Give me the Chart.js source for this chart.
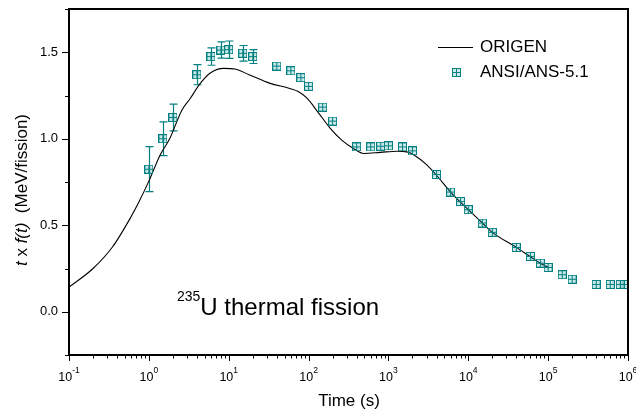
<!DOCTYPE html>
<html>
<head>
<meta charset="utf-8">
<script src="https://cdn.jsdelivr.net/npm/chart.js@4"></script>
<style>
    html, body { margin: 0; padding: 0; background: #fff; }
    #decay_chart { display: block; }
</style>
</head>
<body>
<canvas id="decay_chart" width="636" height="412"></canvas>
<script>
// ORIGEN calculation (line)
const origenT = [0.1, 0.2, 0.35, 0.6, 0.75, 1, 1.4, 1.8, 2.6, 3.3, 4.4, 6, 8.6, 12, 18, 33, 58, 75, 95, 133, 187, 260, 365, 490, 790, 1280, 1700, 2280, 3000, 4000, 6000, 1e4, 1.5e4, 2e4, 4e4, 6e4, 8e4, 1e5];
const origenY = [0.142, 0.25, 0.374, 0.55, 0.634, 0.755, 0.91, 0.995, 1.166, 1.233, 1.32, 1.383, 1.407, 1.403, 1.37, 1.32, 1.291, 1.272, 1.236, 1.15, 1.06, 0.992, 0.944, 0.915, 0.921, 0.928, 0.924, 0.895, 0.85, 0.789, 0.692, 0.59, 0.513, 0.459, 0.372, 0.318, 0.28, 0.256];

// ANSI/ANS-5.1 standard (points with error bars)
const ansiT = [1, 1.5, 2, 4, 6, 8, 10, 15, 20, 40, 60, 80, 100, 150, 200, 400, 600, 800, 1000, 1500, 2000, 4000, 6000, 8000, 1e4, 1.5e4, 2e4, 4e4, 6e4, 8e4, 1e5, 1.5e5, 2e5, 4e5, 6e5, 8e5, 9e5];
const ansiY = [0.824, 1.0, 1.123, 1.37, 1.475, 1.513, 1.515, 1.494, 1.475, 1.42, 1.393, 1.353, 1.303, 1.183, 1.102, 0.953, 0.953, 0.957, 0.959, 0.953, 0.93, 0.793, 0.692, 0.637, 0.59, 0.513, 0.459, 0.372, 0.32, 0.281, 0.256, 0.214, 0.188, 0.158, 0.158, 0.158, 0.158];
const ansiErr = [0.13, 0.097, 0.077, 0.058, 0.05, 0.047, 0.05, 0.045, 0.04, 0, 0, 0, 0, 0, 0, 0, 0, 0, 0, 0, 0, 0, 0, 0, 0, 0, 0, 0, 0, 0, 0, 0, 0, 0, 0, 0, 0];

// axis ticks
const xTickExps = [-1, 0, 1, 2, 3, 4, 5, 6];
const yTickLabels = ['0.0', '0.5', '1.0', '1.5'];
const yMinorStep = 0.25;

const seriesNames = ['ORIGEN', 'ANSI/ANS-5.1'];
const noteIsotope = '235';
const noteText = 'U thermal fission';
const xTitle = 'Time (s)';

const FONT = "'Liberation Sans', Arial, sans-serif";
const TEAL = '#008080';

// square-with-cross marker
function makeMarker() {
    let m = document.createElement('canvas');
    m.width = 9;
    m.height = 9;
    let g = m.getContext('2d');
    g.fillStyle = 'rgba(0,140,140,0.2)';
    g.fillRect(0, 0, 9, 9);
    g.strokeStyle = TEAL;
    g.lineWidth = 1;
    g.strokeRect(0.5, 0.5, 8, 8);
    g.beginPath();
    g.moveTo(4.5, 0.5); g.lineTo(4.5, 8.5);
    g.moveTo(0.5, 4.5); g.lineTo(8.5, 4.5);
    g.stroke();
    return m;
}
const marker = makeMarker();

const axesPlugin = {
    id: 'axesPlugin',
    beforeDatasetsDraw(chart) {
        // error bars
        let ctx = chart.ctx;
        let xs = chart.scales.x, ys = chart.scales.y;
        ctx.save();
        ctx.strokeStyle = TEAL;
        ctx.lineWidth = 1.2;
        ansiT.forEach((t, i) => {
            if (!ansiErr[i]) return;
            let px = Math.round(xs.getPixelForValue(t)) + 0.5;
            let top = ys.getPixelForValue(ansiY[i] + ansiErr[i]);
            let bot = ys.getPixelForValue(ansiY[i] - ansiErr[i]);
            ctx.beginPath();
            ctx.moveTo(px, top); ctx.lineTo(px, bot);
            ctx.moveTo(px - 4, top); ctx.lineTo(px + 4, top);
            ctx.moveTo(px - 4, bot); ctx.lineTo(px + 4, bot);
            ctx.stroke();
        });
        ctx.restore();
    },
    afterDraw(chart) {
        let ctx = chart.ctx;
        let a = chart.chartArea;
        let xs = chart.scales.x, ys = chart.scales.y;
        ctx.save();
        ctx.fillStyle = '#000';
        ctx.strokeStyle = '#000';

        // frame
        ctx.lineWidth = 2;
        ctx.strokeRect(a.left, a.top, a.right - a.left, a.bottom - a.top);

        // x ticks (log)
        ctx.lineWidth = 1;
        ctx.beginPath();
        xTickExps.forEach(e => {
            let base = Math.pow(10, e);
            let px = Math.round(xs.getPixelForValue(base)) + 0.5;
            ctx.moveTo(px, a.bottom); ctx.lineTo(px, a.bottom + 6);
            if (e === xTickExps[xTickExps.length - 1]) return;
            for (let k = 2; k <= 9; k++) {
                let p = Math.round(xs.getPixelForValue(k * base)) + 0.5;
                ctx.moveTo(p, a.bottom); ctx.lineTo(p, a.bottom + 3.5);
            }
        });
        // y ticks
        for (let v = ys.min; v <= ys.max + 1e-9; v += yMinorStep) {
            let py = Math.round(ys.getPixelForValue(v)) + 0.5;
            let major = yTickLabels.some(l => Math.abs(parseFloat(l) - v) < 1e-6);
            ctx.moveTo(a.left, py); ctx.lineTo(a.left - (major ? 7 : 4), py);
        }
        ctx.stroke();

        // y tick labels
        ctx.font = '13px ' + FONT;
        ctx.textAlign = 'right';
        ctx.textBaseline = 'middle';
        yTickLabels.forEach(l => {
            ctx.fillText(l, a.left - 11, ys.getPixelForValue(parseFloat(l)));
        });

        // x tick labels: 10 with superscript exponent
        ctx.textAlign = 'left';
        ctx.textBaseline = 'alphabetic';
        xTickExps.forEach(e => {
            let px = xs.getPixelForValue(Math.pow(10, e));
            ctx.font = '12.5px ' + FONT;
            let w1 = ctx.measureText('10').width;
            ctx.font = '8.5px ' + FONT;
            let w2 = ctx.measureText(String(e)).width;
            let x0 = px - (w1 + w2) / 2;
            ctx.font = '12.5px ' + FONT;
            ctx.fillText('10', x0, a.bottom + 26);
            ctx.font = '8.5px ' + FONT;
            ctx.fillText(String(e), x0 + w1, a.bottom + 18);
        });

        // x title
        ctx.font = '17px ' + FONT;
        ctx.textAlign = 'center';
        ctx.textBaseline = 'middle';
        ctx.fillText(xTitle, 349, 401);

        // y title, mixed italic
        let parts = [['t', true], [' x ', false], ['f(t)', true], ['  (MeV/fission)', false]];
        let fontFor = it => (it ? 'italic ' : '') + '17px ' + FONT;
        let total = 0;
        parts.forEach(p => { ctx.font = fontFor(p[1]); total += ctx.measureText(p[0]).width; });
        ctx.save();
        ctx.translate(22, 190);
        ctx.rotate(-Math.PI / 2);
        ctx.textAlign = 'left';
        let cx = -total / 2;
        parts.forEach(p => {
            ctx.font = fontFor(p[1]);
            ctx.fillText(p[0], cx, 0);
            cx += ctx.measureText(p[0]).width;
        });
        ctx.restore();

        // legend
        ctx.lineWidth = 1;
        ctx.beginPath();
        ctx.moveTo(438, 47.5); ctx.lineTo(473, 47.5);
        ctx.stroke();
        ctx.drawImage(marker, 452, 68);
        ctx.font = '17px ' + FONT;
        ctx.textAlign = 'left';
        ctx.textBaseline = 'middle';
        ctx.fillText(seriesNames[0], 480, 47);
        ctx.fillText(seriesNames[1], 480, 72);

        // annotation
        ctx.textBaseline = 'alphabetic';
        ctx.font = '14px ' + FONT;
        ctx.fillText(noteIsotope, 177, 301);
        let w = ctx.measureText(noteIsotope).width;
        ctx.font = '24px ' + FONT;
        ctx.fillText(noteText, 177 + w, 315);

        ctx.restore();
    }
};

(() => {
    let canvas = document.querySelector('#decay_chart');

    let chartData = {
        datasets: [{
            label: seriesNames[1],
            data: ansiT.map((t, i) => ({ x: t, y: ansiY[i] })),
            showLine: false,
            pointStyle: marker,
            pointRadius: 4.5,
            clip: false
        }, {
            label: seriesNames[0],
            data: origenT.map((t, i) => ({ x: t, y: origenY[i] })),
            borderColor: '#000',
            borderWidth: 1.1,
            pointRadius: 0,
            cubicInterpolationMode: 'monotone',
            fill: false
        }]
    };

    let chartOptions = {
        responsive: false,
        animation: false,
        devicePixelRatio: 1,
        layout: {
            padding: { left: 69, right: 8, top: 9, bottom: 57 }
        },
        scales: {
            x: { type: 'logarithmic', min: 0.1, max: 1e6, display: false },
            y: { type: 'linear', min: -0.25, max: 1.75, display: false }
        },
        plugins: {
            legend: { display: false },
            tooltip: { enabled: false }
        }
    };

    new Chart(canvas, {
        type: 'line',
        data: chartData,
        options: chartOptions,
        plugins: [axesPlugin]
    });
})();
</script>
</body>
</html>
